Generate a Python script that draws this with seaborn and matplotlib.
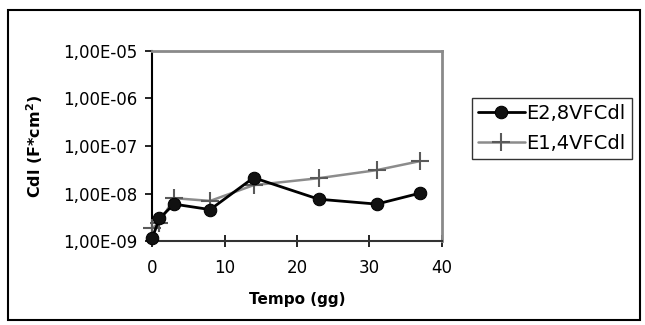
import matplotlib
matplotlib.use("Agg")
import matplotlib.pyplot as plt
import seaborn as sns
import pandas as pd
import numpy as np
from matplotlib.ticker import FuncFormatter, FixedLocator, NullLocator
from matplotlib.patches import Rectangle

tempo = [0, 1, 3, 8, 14, 23, 31, 37]
e28 = [1.17e-9, 3.0e-9, 6.0e-9, 4.6e-9, 2.15e-8, 7.6e-9, 6.0e-9, 1.02e-8]
e14 = [1.9e-9, 2.4e-9, 8.0e-9, 7.0e-9, 1.5e-8, 2.1e-8, 3.1e-8, 4.8e-8]
series_names = ["E2,8VFCdl", "E1,4VFCdl"]
y_ticks = [1e-9, 1e-8, 1e-7, 1e-6, 1e-5]
x_ticks = [0, 10, 20, 30, 40]

sns.set_style("white")
plt.rcParams['font.family'] = ['DejaVu Sans']
plt.rcParams.update({"text.color": "black", "axes.labelcolor": "black",
                     "xtick.color": "black", "ytick.color": "black"})

df = pd.DataFrame({"Tempo": tempo * 2,
                   "Cdl": e28 + e14,
                   "serie": [series_names[0]] * len(tempo) + [series_names[1]] * len(tempo)})

fig = plt.figure(figsize=(6.45, 3.25), dpi=100)
ax = fig.add_axes([0.236, 0.258, 0.449, 0.586])

sns.lineplot(data=df[df.serie == series_names[1]], x="Tempo", y="Cdl", ax=ax,
             color="#8c8c8c", lw=1.8, marker="+", markersize=13, mew=1.5,
             mec="#5a5a5a", label=series_names[1], zorder=4, clip_on=False)
sns.lineplot(data=df[df.serie == series_names[0]], x="Tempo", y="Cdl", ax=ax,
             color="black", lw=2.0, marker="o", markersize=9, mec="black",
             mfc="#111111", label=series_names[0], zorder=5, clip_on=False)

ax.set_yscale("log")
ax.set_ylim(1e-9, 1e-5)
ax.set_xlim(0, 40)
ax.yaxis.set_major_locator(FixedLocator(y_ticks))
ax.yaxis.set_minor_locator(NullLocator())
ax.yaxis.set_major_formatter(FuncFormatter(
    lambda v, p: ("%.2E" % v).replace(".", ",")))
ax.xaxis.set_major_locator(FixedLocator(x_ticks))

for s in ["top", "right"]:
    ax.spines[s].set_color("#8a8a8a")
    ax.spines[s].set_linewidth(2.0)
ax.spines["left"].set_color("black")
ax.spines["left"].set_linewidth(1.5)
ax.spines["bottom"].set_color("#333333")
ax.spines["bottom"].set_linewidth(1.5)
for s in ax.spines.values():
    s.set_zorder(1)

ax.tick_params(axis="y", which="major", direction="out", length=5, width=1.2,
               labelsize=12, pad=6, left=True)
ax.tick_params(axis="x", which="major", direction="inout", length=8, width=1.2,
               labelsize=12, pad=9, bottom=True)

ax.set_xlabel("Tempo (gg)", fontsize=11, fontweight="bold", labelpad=11)
ax.set_ylabel("Cdl (F*cm$^\\mathbf{2}$)", fontsize=11.5, fontweight="bold", labelpad=13)

handles, labels = ax.get_legend_handles_labels()
order = [labels.index(series_names[0]), labels.index(series_names[1])]
leg = ax.legend([handles[i] for i in order], [labels[i] for i in order],
                loc="upper left", bbox_to_anchor=(0.732, 0.698),
                bbox_transform=fig.transFigure, frameon=True, fancybox=False,
                edgecolor="black", fontsize=14, handlelength=2.4,
                handletextpad=0.1, borderpad=0.3, labelspacing=0.55,
                borderaxespad=0)
leg.get_frame().set_linewidth(1.0)

fig.patches.append(Rectangle((0.013, 0.015), 0.98, 0.955, transform=fig.transFigure,
                             fill=False, edgecolor="black", lw=1.5))

fig.savefig("out.png", dpi=100)
